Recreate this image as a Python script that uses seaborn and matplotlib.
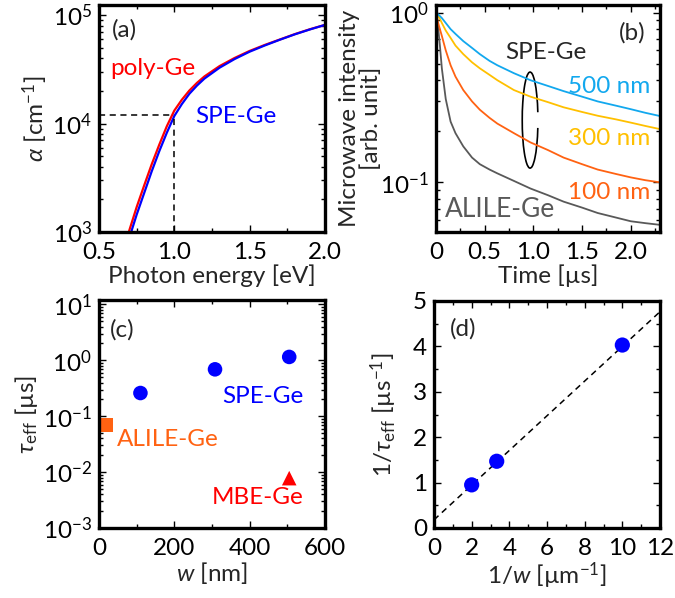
import numpy as np
import pandas as pd
import matplotlib
matplotlib.use("Agg")
import matplotlib.pyplot as plt
import seaborn as sns
from matplotlib.ticker import AutoMinorLocator, NullFormatter, FuncFormatter, LogLocator
from matplotlib.patches import Arc

# (a) coeficiente de absorcion
energy = [0.70, 0.75, 0.80, 0.85, 0.90, 0.95, 1.00, 1.05, 1.10, 1.15, 1.20, 1.30,
          1.40, 1.50, 1.60, 1.70, 1.80, 1.90, 2.00]
log_alpha_poly = [3.01, 3.23, 3.43, 3.625, 3.805, 3.975, 4.12, 4.22, 4.305, 4.375, 4.435, 4.53,
                  4.605, 4.67, 4.725, 4.775, 4.825, 4.87, 4.91]
log_alpha_spe = [2.94, 3.16, 3.36, 3.56, 3.745, 3.915, 4.07, 4.18, 4.275, 4.35, 4.415, 4.515,
                 4.595, 4.663, 4.72, 4.773, 4.823, 4.868, 4.91]
e_mark = 1.0
alpha_mark = 1.19e4

# (b) decaimiento de microondas
time_us = [0, 0.02, 0.04, 0.06, 0.1, 0.15, 0.2, 0.28, 0.37, 0.45, 0.55, 0.63,
           0.8, 0.97, 1.15, 1.31, 1.5, 1.66, 1.85, 2.0, 2.15, 2.3]
decay_500 = [1.0, 0.98, 0.955, 0.93, 0.87, 0.80, 0.75, 0.68, 0.62, 0.57, 0.52, 0.49,
             0.44, 0.40, 0.37, 0.345, 0.32, 0.30, 0.283, 0.27, 0.257, 0.246]
decay_300 = [1.0, 0.96, 0.92, 0.87, 0.785, 0.71, 0.64, 0.57, 0.51, 0.47, 0.43, 0.40,
             0.35, 0.32, 0.297, 0.277, 0.26, 0.247, 0.235, 0.225, 0.215, 0.206]
decay_100 = [1.0, 0.88, 0.80, 0.73, 0.60, 0.49, 0.42, 0.35, 0.30, 0.268, 0.24, 0.222,
             0.195, 0.172, 0.155, 0.14, 0.128, 0.119, 0.112, 0.107, 0.103, 0.100]
decay_alile = [1.0, 0.84, 0.64, 0.47, 0.31, 0.228, 0.195, 0.163, 0.14, 0.128, 0.119, 0.113,
               0.102, 0.092, 0.084, 0.077, 0.071, 0.066, 0.062, 0.059, 0.0575, 0.0562]

# (c) tiempo de vida vs espesor
w_spe = [110, 308, 505]
tau_spe = [0.26, 0.69, 1.15]
w_alile = [20]
tau_alile = [0.069]
w_mbe = [505]
tau_mbe = [0.0078]

# (d) 1/tau vs 1/w y ajuste lineal
inv_w = [2.0, 3.33, 10.0]
inv_tau = [0.95, 1.47, 4.03]
fit_intercept = 0.18
fit_slope = 0.382

RED = "#FF0000"
BLUE = "#0000FF"
CYAN = "#12A8EE"
GOLD = "#FFC000"
ORANGE = "#FF6212"
GRAY = "#595959"
FS = 17.5

sns.set_style("ticks")
plt.rcParams['font.family'] = ['Lato', 'DejaVu Sans']
plt.rcParams['mathtext.fontset'] = 'custom'
plt.rcParams['mathtext.rm'] = 'Lato'
plt.rcParams['mathtext.it'] = 'Lato:italic'
plt.rcParams['mathtext.fallback'] = 'stixsans'
plt.rcParams['font.size'] = FS

fig = plt.figure(figsize=(6.75, 5.98), dpi=100)
ax_a = fig.add_axes([99/675, 1-232/598, 226/675, 227/598])
ax_b = fig.add_axes([436/675, 1-232/598, 224/675, 227/598])
ax_c = fig.add_axes([99/675, 1-528/598, 226/675, 228/598])
ax_d = fig.add_axes([434/675, 1-528/598, 226/675, 227/598])


def style_axes(ax):
    for s in ax.spines.values():
        s.set_linewidth(2.4)
        s.set_color("black")
    ax.tick_params(which="both", direction="in", top=True, right=True,
                   labelsize=FS, colors="black", pad=5)
    ax.tick_params(axis="x", which="both", pad=7)
    ax.tick_params(which="major", length=5, width=1.0)
    ax.tick_params(which="minor", length=3, width=1.0)
    ax.set_facecolor("white")


# ---- (a)
df_a = pd.DataFrame({"E": energy,
                     "poly": np.power(10.0, log_alpha_poly),
                     "spe": np.power(10.0, log_alpha_spe)})
ax_a.set_yscale("log")
sns.lineplot(data=df_a, x="E", y="poly", color=RED, lw=1.6, ax=ax_a)
sns.lineplot(data=df_a, x="E", y="spe", color=BLUE, lw=1.6, ax=ax_a)
ax_a.plot([0.5, e_mark], [alpha_mark, alpha_mark], "k--", lw=1.1, dashes=(4, 3))
ax_a.plot([e_mark, e_mark], [1e3, alpha_mark], "k--", lw=1.1, dashes=(4, 3))
ax_a.set_xlim(0.5, 2.0)
ax_a.set_ylim(1e3, 1.24e5)
ax_a.set_xticks([0.5, 1.0, 1.5, 2.0])
ax_a.xaxis.set_major_formatter(FuncFormatter(lambda v, p: f"{v:.1f}"))
ax_a.xaxis.set_minor_locator(AutoMinorLocator(2))
ax_a.yaxis.set_minor_locator(LogLocator(subs=np.arange(2, 10)))
ax_a.yaxis.set_minor_formatter(NullFormatter())
ax_a.set_xlabel("Photon energy [eV]", fontsize=FS, labelpad=1)
ax_a.set_ylabel(r"$\alpha$ [cm$^{-1}$]", fontsize=FS, labelpad=2)
ax_a.text(0.058, 0.89, "(a)", transform=ax_a.transAxes, fontsize=FS, va="center")
ax_a.text(0.05, 0.722, "poly-Ge", transform=ax_a.transAxes, fontsize=FS,
          color=RED, va="center")
ax_a.text(0.425, 0.511, "SPE-Ge", transform=ax_a.transAxes, fontsize=FS,
          color=BLUE, va="center")
style_axes(ax_a)

# ---- (b)
df_b = pd.DataFrame({"t": time_us, "500": decay_500, "300": decay_300,
                     "100": decay_100, "alile": decay_alile})
ax_b.set_yscale("log")
for col, c in [("alile", GRAY), ("100", ORANGE), ("300", GOLD), ("500", CYAN)]:
    sns.lineplot(data=df_b, x="t", y=col, color=c, lw=1.3, ax=ax_b)
ax_b.set_xlim(0, 2.3)
ax_b.set_ylim(0.051, 1.11)
ax_b.set_xticks([0, 0.5, 1.0, 1.5, 2.0])
ax_b.xaxis.set_major_formatter(FuncFormatter(lambda v, p: "0" if v == 0 else f"{v:.1f}"))
ax_b.xaxis.set_minor_locator(AutoMinorLocator(2))
ax_b.yaxis.set_minor_locator(LogLocator(subs=np.arange(2, 10)))
ax_b.yaxis.set_minor_formatter(NullFormatter())
ax_b.set_xlabel("Time [µs]", fontsize=FS, labelpad=1)
ax_b.set_ylabel("Microwave intensity\n[arb. unit]", fontsize=FS, labelpad=-1,
                linespacing=1.0)
ax_b.text(0.935, 0.877, "(b)", transform=ax_b.transAxes, fontsize=FS,
          va="center", ha="right")
ax_b.text(0.308, 0.789, "SPE-Ge", transform=ax_b.transAxes, fontsize=FS,
          va="center")
ax_b.text(0.955, 0.639, "500 nm", transform=ax_b.transAxes, fontsize=FS,
          color=CYAN, va="center", ha="right")
ax_b.text(0.955, 0.41, "300 nm", transform=ax_b.transAxes, fontsize=FS,
          color=GOLD, va="center", ha="right")
ax_b.text(0.955, 0.176, "100 nm", transform=ax_b.transAxes, fontsize=FS,
          color=ORANGE, va="center", ha="right")
ax_b.text(0.04, 0.097, "ALILE-Ge", transform=ax_b.transAxes, fontsize=FS + 1.5,
          color=GRAY, va="center")
ax_b.add_patch(Arc((0.42, 0.493), 0.07, 0.423, theta1=45, theta2=315,
                   transform=ax_b.transAxes, color="black", lw=1.2))
style_axes(ax_b)

# ---- (c)
ax_c.set_yscale("log")
sns.scatterplot(x=w_spe, y=tau_spe, color=BLUE, s=110, marker="o",
                edgecolor="none", ax=ax_c)
sns.scatterplot(x=w_alile, y=tau_alile, color=ORANGE, s=95, marker="s",
                edgecolor="none", ax=ax_c, clip_on=False)
sns.scatterplot(x=w_mbe, y=tau_mbe, color=RED, s=110, marker="^",
                edgecolor="none", ax=ax_c)
ax_c.set_xlim(0, 600)
ax_c.set_ylim(1e-3, 1.2e1)
ax_c.set_xticks([0, 200, 400, 600])
ax_c.xaxis.set_minor_locator(AutoMinorLocator(2))
ax_c.set_yticks([1e-3, 1e-2, 1e-1, 1e0, 1e1])
ax_c.yaxis.set_minor_locator(LogLocator(subs=np.arange(2, 10)))
ax_c.yaxis.set_minor_formatter(NullFormatter())
ax_c.set_xlabel(r"$w$ [nm]", fontsize=FS, labelpad=1)
ax_c.set_ylabel(r"$\tau_{\rm eff}$ [µs]", fontsize=FS, labelpad=2)
ax_c.text(0.049, 0.868, "(c)", transform=ax_c.transAxes, fontsize=FS, va="center")
ax_c.text(0.545, 0.576, "SPE-Ge", transform=ax_c.transAxes, fontsize=FS,
          color=BLUE, va="center")
ax_c.text(0.08, 0.386, "ALILE-Ge", transform=ax_c.transAxes, fontsize=FS,
          color=ORANGE, va="center")
ax_c.text(0.50, 0.132, "MBE-Ge", transform=ax_c.transAxes, fontsize=FS,
          color=RED, va="center")
style_axes(ax_c)

# ---- (d)
x_fit = np.array([0, 12])
ax_d.plot(x_fit, fit_intercept + fit_slope * x_fit, "k--", lw=1.1, dashes=(4, 3))
sns.scatterplot(x=inv_w, y=inv_tau, color=BLUE, s=120, marker="o",
                edgecolor="none", ax=ax_d, zorder=3)
ax_d.set_xlim(0, 12)
ax_d.set_ylim(0, 5)
ax_d.set_xticks(range(0, 13, 2))
ax_d.set_yticks(range(0, 6))
ax_d.xaxis.set_minor_locator(AutoMinorLocator(2))
ax_d.yaxis.set_minor_locator(AutoMinorLocator(2))
ax_d.set_xlabel(r"1/$w$ [µm$^{-1}$]", fontsize=FS, labelpad=1)
ax_d.set_ylabel(r"1/$\tau_{\rm eff}$ [µs$^{-1}$]", fontsize=FS, labelpad=10)
ax_d.text(0.07, 0.877, "(d)", transform=ax_d.transAxes, fontsize=FS, va="center")
style_axes(ax_d)

fig.savefig("out.png", dpi=100, facecolor="white")
